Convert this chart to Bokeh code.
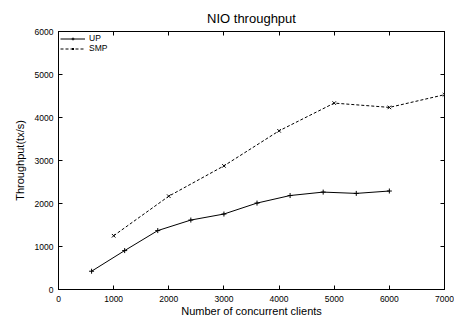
from bokeh.plotting import figure
from bokeh.models import Range1d, LinearAxis, SingleIntervalTicker, Legend, LegendItem
from bokeh.embed import file_html
from bokeh.resources import INLINE

up_clients = [600, 1200, 1800, 2400, 3000, 3600, 4200, 4800, 5400, 6000]
up_tput = [425, 905, 1370, 1615, 1755, 2010, 2185, 2265, 2235, 2290]
smp_clients = [1000, 2000, 3000, 4000, 5000, 6000, 7000]
smp_tput = [1250, 2170, 2875, 3690, 4335, 4235, 4530]

FONT = "Liberation Sans"

p = figure(width=454, height=320, output_backend="svg", toolbar_location=None,
           x_range=Range1d(0, 7000), y_range=Range1d(0, 6000),
           title="NIO throughput", x_axis_label="Number of concurrent clients",
           y_axis_label="Throughput(tx/s)",
           min_border_left=58, min_border_right=10, min_border_top=31, min_border_bottom=31)
p.title.align = "center"
p.title.text_font = FONT
p.title.text_font_style = "normal"
p.title.text_font_size = "13px"
p.title.text_color = "black"
p.title.standoff = 11
p.grid.visible = False
p.outline_line_color = "black"
p.outline_line_alpha = 1
p.background_fill_color = "white"
p.border_fill_color = "white"

def style_axis(ax, labels=True):
    ax.ticker = SingleIntervalTicker(interval=1000, num_minor_ticks=0)
    ax.axis_line_color = "black"
    ax.major_tick_line_color = "black"
    ax.major_tick_in = 4
    ax.major_tick_out = 0
    ax.minor_tick_line_color = None
    ax.major_label_text_font = FONT
    ax.axis_label_text_font = FONT
    ax.axis_label_text_font_style = "normal"
    ax.axis_label_text_font_size = "11px"
    if labels:
        ax.major_label_text_font_size = "8.5px"
        ax.major_label_text_color = "black"
    else:
        ax.major_label_text_font_size = "1px"
        ax.major_label_text_color = None
    ax.axis_label_text_color = "black"

style_axis(p.xaxis[0])
style_axis(p.yaxis[0])
p.xaxis[0].major_label_standoff = 6
p.xaxis[0].axis_label_standoff = 0
p.yaxis[0].major_label_standoff = 5
p.yaxis[0].axis_label_standoff = 6

top = LinearAxis()
style_axis(top, labels=False)
top.major_label_standoff = 0
p.add_layout(top, "above")
right = LinearAxis()
style_axis(right, labels=False)
right.major_label_standoff = 0
p.add_layout(right, "right")

l1 = p.line(up_clients, up_tput, line_color="black", line_width=1)
m1 = p.scatter(up_clients, up_tput, marker="cross", size=5, line_color="black", line_width=1)
l2 = p.line(smp_clients, smp_tput, line_color="black", line_width=1, line_dash="3 2")
m2 = p.scatter(smp_clients, smp_tput, marker="x", size=5, line_color="black", line_width=1)

legend = Legend(items=[LegendItem(label="UP", renderers=[l1, m1]),
                       LegendItem(label="SMP", renderers=[l2, m2])],
                location="top_left", border_line_color=None, background_fill_alpha=0,
                label_text_font=FONT, label_text_font_size="8.5px", label_text_color="black",
                glyph_width=25, glyph_height=7, label_height=7, spacing=0,
                padding=2, margin=2, label_standoff=4)
p.add_layout(legend)

open("out.html", "w").write(file_html(p, INLINE))
